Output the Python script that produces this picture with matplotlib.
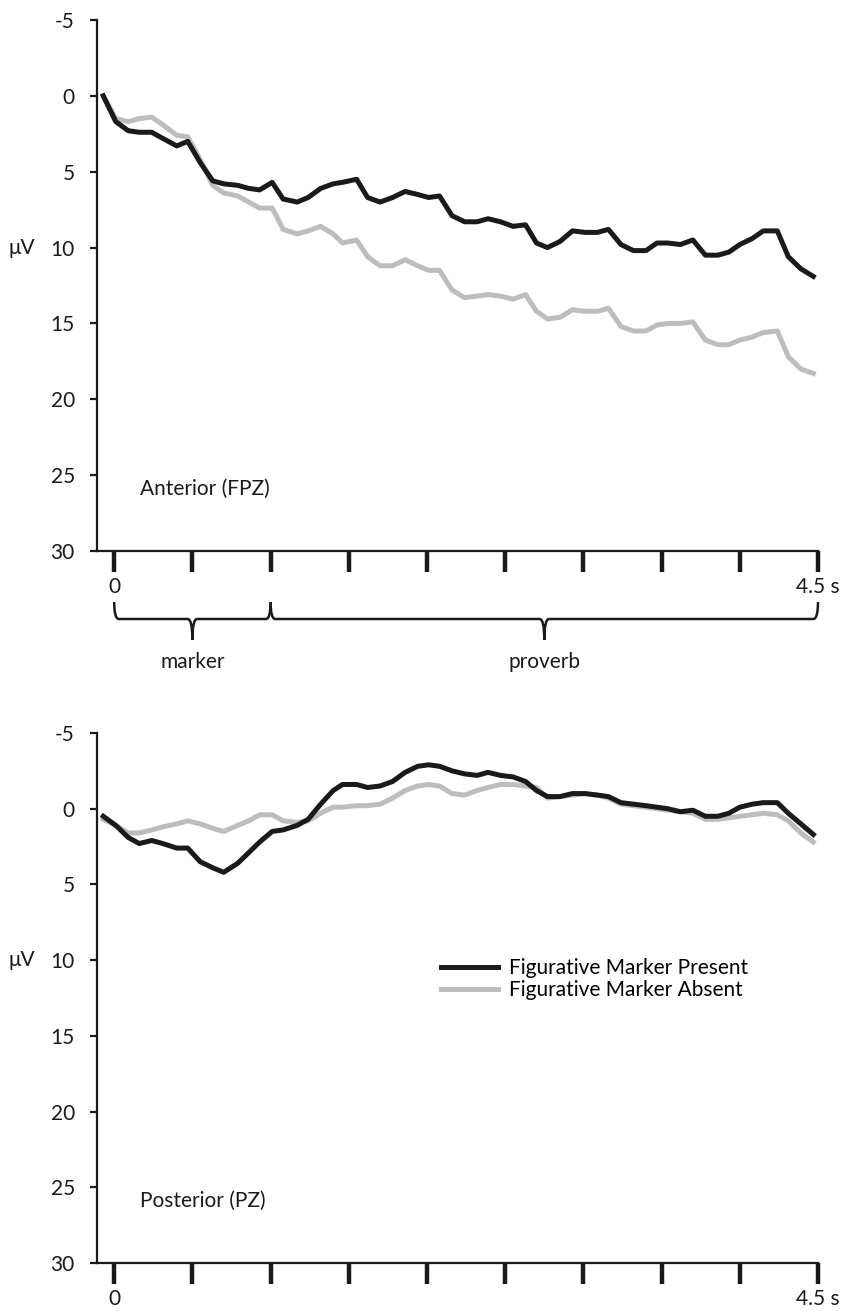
import numpy as np
import matplotlib
matplotlib.use("Agg")
import matplotlib.pyplot as plt
import matplotlib.transforms as mtransforms
from matplotlib.path import Path
from matplotlib.patches import PathPatch

plt.rcParams['font.family'] = ['Lato', 'DejaVu Sans']

# time points (s)
t = [-0.07, 0.01, 0.09, 0.16, 0.24, 0.31, 0.40, 0.47, 0.55, 0.63,
     0.70, 0.79, 0.86, 0.93, 1.01, 1.08, 1.17, 1.24, 1.32, 1.40,
     1.46, 1.55, 1.62, 1.70, 1.78, 1.86, 1.94, 2.01, 2.08, 2.16,
     2.24, 2.32, 2.39, 2.47, 2.55, 2.63, 2.70, 2.77, 2.85, 2.93,
     3.01, 3.09, 3.16, 3.24, 3.32, 3.40, 3.47, 3.54, 3.62, 3.70,
     3.78, 3.86, 3.93, 4.00, 4.08, 4.15, 4.24, 4.31, 4.39, 4.47]

# anterior (FPZ)
fpz_present = [0.0, 1.7, 2.3, 2.4, 2.4, 2.8, 3.3, 3.0, 4.4, 5.6,
               5.8, 5.9, 6.1, 6.2, 5.7, 6.8, 7.0, 6.7, 6.1, 5.8,
               5.7, 5.5, 6.7, 7.0, 6.7, 6.3, 6.5, 6.7, 6.6, 7.9,
               8.3, 8.3, 8.1, 8.3, 8.6, 8.5, 9.7, 10.0, 9.6, 8.9,
               9.0, 9.0, 8.8, 9.8, 10.2, 10.2, 9.7, 9.7, 9.8, 9.5,
               10.5, 10.5, 10.3, 9.8, 9.4, 8.9, 8.9, 10.6, 11.4, 11.9]
fpz_absent = [0.0, 1.5, 1.7, 1.5, 1.4, 1.9, 2.6, 2.7, 4.2, 5.9,
              6.4, 6.6, 7.0, 7.4, 7.4, 8.8, 9.1, 8.9, 8.6, 9.1,
              9.7, 9.5, 10.6, 11.2, 11.2, 10.8, 11.2, 11.5, 11.5, 12.8,
              13.3, 13.2, 13.1, 13.2, 13.4, 13.1, 14.2, 14.7, 14.6, 14.1,
              14.2, 14.2, 14.0, 15.2, 15.5, 15.5, 15.1, 15.0, 15.0, 14.9,
              16.1, 16.4, 16.4, 16.1, 15.9, 15.6, 15.5, 17.2, 18.0, 18.3]

# posterior (PZ)
pz_present = [0.5, 1.1, 1.9, 2.3, 2.1, 2.3, 2.6, 2.6, 3.5, 3.9,
              4.2, 3.6, 2.9, 2.2, 1.5, 1.4, 1.1, 0.7, -0.3, -1.2,
              -1.6, -1.6, -1.4, -1.5, -1.8, -2.4, -2.8, -2.9, -2.8, -2.5,
              -2.3, -2.2, -2.4, -2.2, -2.1, -1.8, -1.2, -0.8, -0.8, -1.0,
              -1.0, -0.9, -0.8, -0.4, -0.3, -0.2, -0.1, 0.0, 0.2, 0.1,
              0.5, 0.5, 0.3, -0.1, -0.3, -0.4, -0.4, 0.3, 1.0, 1.7]
pz_absent = [0.7, 1.1, 1.6, 1.6, 1.4, 1.2, 1.0, 0.8, 1.0, 1.3,
             1.5, 1.1, 0.8, 0.4, 0.4, 0.8, 0.9, 0.8, 0.3, -0.1,
             -0.1, -0.2, -0.2, -0.3, -0.7, -1.2, -1.5, -1.6, -1.5, -1.0,
             -0.9, -1.2, -1.4, -1.6, -1.6, -1.5, -1.4, -0.7, -0.8, -0.9,
             -1.0, -0.9, -0.7, -0.3, -0.2, -0.1, 0.0, 0.1, 0.2, 0.3,
             0.7, 0.7, 0.6, 0.5, 0.4, 0.3, 0.4, 0.8, 1.6, 2.2]

yticks = [-5, 0, 5, 10, 15, 20, 25, 30]
xticks = [0, 0.5, 1.0, 1.5, 2.0, 2.5, 3.0, 3.5, 4.0, 4.5]
segments = [("marker", 0.0, 1.0), ("proverb", 1.0, 4.5)]

BLACK = '#1a1a1a'
GRAY = '#bdbdbd'
FS = 15

W, H = 841, 1311
fig = plt.figure(figsize=(W / 100, H / 100), dpi=100)


def px_box(left, top, right, bottom):
    return [left / W, 1 - bottom / H, (right - left) / W, (bottom - top) / H]


def setup(ax, name):
    ax.set_xlim(-0.11, 4.5)
    ax.set_ylim(30, -5)
    for s in ['top', 'right']:
        ax.spines[s].set_visible(False)
    for s in ['left', 'bottom']:
        ax.spines[s].set_linewidth(1.6)
        ax.spines[s].set_color(BLACK)
    ax.set_yticks(yticks)
    ax.set_yticklabels([str(v) for v in yticks], fontsize=FS)
    ax.tick_params(axis='y', length=5, width=1.6, pad=11, colors=BLACK)
    ax.set_xticks(xticks)
    labels = [''] * len(xticks)
    labels[0] = '0'
    labels[-1] = '4.5 s'
    ax.set_xticklabels(labels, fontsize=FS)
    ax.tick_params(axis='x', direction='out', length=15, width=3.2, pad=4, colors=BLACK)
    ax.text(0.165, 25.9, name, fontsize=FS, color=BLACK, ha='left', va='center')


ax1 = fig.add_axes(px_box(97, 20, 818, 551))
ax1.plot(t, fpz_absent, color=GRAY, lw=3.6, solid_joinstyle='round', zorder=2)
ax1.plot(t, fpz_present, color=BLACK, lw=3.6, solid_joinstyle='round', zorder=3)
setup(ax1, 'Anterior (FPZ)')

ax2 = fig.add_axes(px_box(97, 733, 818, 1263))
ax2.plot(t, pz_present, color=BLACK, lw=3.6, solid_joinstyle='round', zorder=3,
         label='Figurative Marker Present')
ax2.plot(t, pz_absent, color=GRAY, lw=3.6, solid_joinstyle='round', zorder=2,
         label='Figurative Marker Absent')
setup(ax2, 'Posterior (PZ)')
ax2.legend(loc='upper left', bbox_to_anchor=(441 / W, 1 - 958 / H),
           bbox_transform=fig.transFigure, frameon=False, fontsize=FS,
           handlelength=2.75, handletextpad=0.5, labelspacing=0.1,
           borderpad=0, borderaxespad=0)

for yp in (248, 960):
    fig.text(22 / W, 1 - yp / H, 'μV', ha='center', va='center', fontsize=FS, color=BLACK)

# braces under the top panel
tr = mtransforms.blended_transform_factory(ax1.transData, fig.transFigure)
y_top, y_bar, y_tip = 1 - 602 / H, 1 - 619 / H, 1 - 640 / H
r = 0.03
for name, x0, x1 in segments:
    xm = (x0 + x1) / 2
    verts = [(x0, y_top), (x0, y_bar), (x0 + r, y_bar),
             (xm - r, y_bar), (xm, y_bar), (xm, y_tip),
             (xm, y_tip), (xm, y_bar), (xm + r, y_bar),
             (x1 - r, y_bar), (x1, y_bar), (x1, y_top)]
    codes = [Path.MOVETO, Path.CURVE3, Path.CURVE3,
             Path.LINETO, Path.CURVE3, Path.CURVE3,
             Path.MOVETO, Path.CURVE3, Path.CURVE3,
             Path.LINETO, Path.CURVE3, Path.CURVE3]
    patch = PathPatch(Path(verts, codes), transform=tr, fill=False,
                      lw=1.8, edgecolor=BLACK, clip_on=False)
    fig.add_artist(patch)
    fig.text(xm, 1 - 662 / H, name, transform=tr, ha='center', va='center',
             fontsize=FS, color=BLACK)

fig.savefig('out.png', dpi=100)
